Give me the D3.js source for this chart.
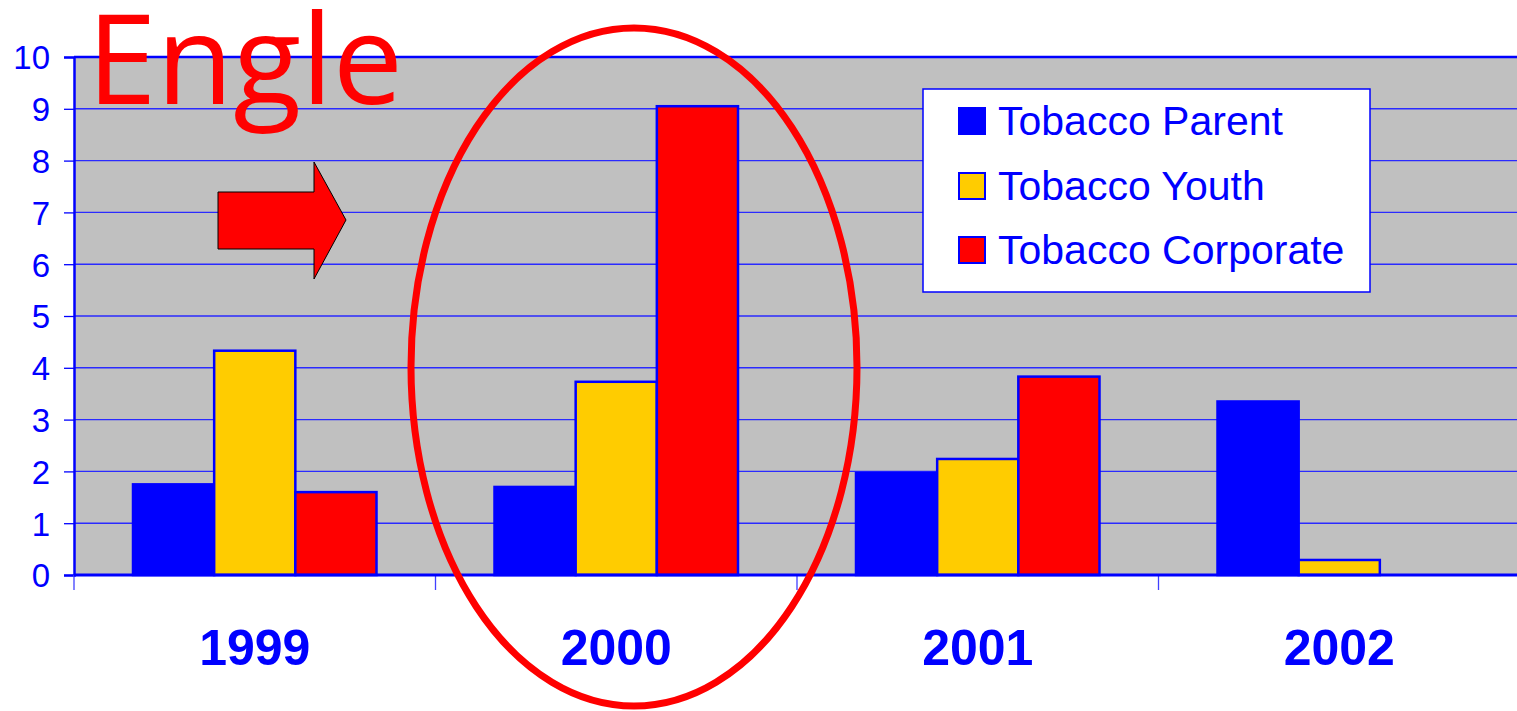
<!DOCTYPE html>
<html>
<head>
<meta charset="utf-8">
<script src="https://cdn.jsdelivr.net/npm/d3@7"></script>
<style>
  html, body { margin: 0; padding: 0; background: #ffffff; }
  svg { display: block; }
</style>
</head>
<body>
<svg id="chart" width="1517" height="711"></svg>
<script>
// ---- data ----
const years = ["1999", "2000", "2001", "2002"];
const seriesNames = ["Tobacco Parent", "Tobacco Youth", "Tobacco Corporate"];
const parentValues = [1.75, 1.7, 1.97, 3.35];
const youthValues = [4.33, 3.73, 2.24, 0.29];
const corporateValues = [1.6, 9.05, 3.83, 0];
const yTicks = [0, 1, 2, 3, 4, 5, 6, 7, 8, 9, 10];
const seriesColors = ["#0000ff", "#ffcc00", "#ff0000"];

const seriesValues = [parentValues, youthValues, corporateValues];

const svg = d3.select("#chart");
const W = 1517, H = 711;
const plot = { left: 74, top: 57, right: 1520, bottom: 575 };

const x = d3.scaleBand().domain(years).range([plot.left, plot.right]).padding(0);
const groupPad = 59;
const x1 = d3.scaleBand().domain(seriesNames)
  .range([groupPad, x.bandwidth() - groupPad]).padding(0);
const y = d3.scaleLinear().domain([0, 10]).range([plot.bottom, plot.top]);

// plot background
svg.append("rect")
  .attr("x", plot.left).attr("y", plot.top)
  .attr("width", W - plot.left + 5).attr("height", plot.bottom - plot.top)
  .attr("fill", "#c0c0c0");

// gridlines
svg.append("g").selectAll("line").data(yTicks.filter(d => d > 0 && d < 10)).join("line")
  .attr("x1", plot.left).attr("x2", W)
  .attr("y1", d => y(d)).attr("y2", d => y(d))
  .attr("stroke", "#2a2aff").attr("stroke-width", 1.4);

// top border
svg.append("line")
  .attr("x1", plot.left).attr("x2", W)
  .attr("y1", y(10)).attr("y2", y(10))
  .attr("stroke", "#0000ff").attr("stroke-width", 2.5);

// y axis
const yAxis = d3.axisLeft(y).tickValues(yTicks).tickSize(10).tickPadding(14).tickFormat(d3.format("d"));
const gy = svg.append("g").attr("transform", `translate(${plot.left},0)`).call(yAxis);
gy.select(".domain").attr("stroke", "#0000ff").attr("stroke-width", 2.5);
gy.selectAll(".tick line").attr("stroke", "#0000ff").attr("stroke-width", 1.3);
gy.selectAll(".tick text")
  .attr("fill", "#0000ff")
  .attr("font-family", "'Liberation Sans', Arial, sans-serif")
  .attr("font-size", 33)
  .attr("dy", "0.36em");

// bars
const groups = svg.append("g").selectAll("g").data(years).join("g")
  .attr("transform", d => `translate(${x(d)},0)`);
groups.selectAll("rect")
  .data((d, i) => seriesNames.map((s, j) => ({ s, j, v: seriesValues[j][i] })).filter(e => e.v > 0))
  .join("rect")
  .attr("x", e => x1(e.s))
  .attr("width", x1.bandwidth())
  .attr("y", e => y(e.v))
  .attr("height", e => y(0) - y(e.v))
  .attr("fill", e => seriesColors[e.j])
  .attr("stroke", "#0000ff")
  .attr("stroke-width", 2.5);

// x axis
const xAxis = d3.axisBottom(x).tickSize(0).tickPadding(0);
const gx = svg.append("g").attr("transform", `translate(0,${plot.bottom})`).call(xAxis);
gx.select(".domain").remove();
gx.selectAll(".tick text")
  .attr("fill", "#0000ff")
  .attr("font-family", "'Liberation Sans', Arial, sans-serif")
  .attr("font-weight", "bold")
  .attr("font-size", 50)
  .attr("dy", 0)
  .attr("y", 90);
// category boundary ticks
svg.append("g").selectAll("line").data(years).join("line")
  .attr("x1", d => x(d)).attr("x2", d => x(d))
  .attr("y1", plot.bottom).attr("y2", plot.bottom + 15)
  .attr("stroke", "#4040ff").attr("stroke-width", 1.3);
// baseline
svg.append("line")
  .attr("x1", plot.left).attr("x2", W)
  .attr("y1", y(0)).attr("y2", y(0))
  .attr("stroke", "#0000ff").attr("stroke-width", 3);

// legend
const lg = svg.append("g");
lg.append("rect")
  .attr("x", 923).attr("y", 89).attr("width", 447).attr("height", 203)
  .attr("fill", "#ffffff").attr("stroke", "#0000ff").attr("stroke-width", 1.5);
const rowY = [121, 186, 250];
seriesNames.forEach((s, i) => {
  lg.append("rect")
    .attr("x", 959).attr("y", rowY[i] - 13).attr("width", 26).attr("height", 26)
    .attr("fill", seriesColors[i]).attr("stroke", "#0000ff").attr("stroke-width", 2);
  lg.append("text")
    .attr("x", 998).attr("y", rowY[i]).attr("dy", "0.35em")
    .attr("fill", "#0000ff")
    .attr("font-family", "'Liberation Sans', Arial, sans-serif")
    .attr("font-size", 41)
    .text(s);
});

// arrow annotation
svg.append("path")
  .attr("d", "M218,192 L314,192 L314,162 L346,220 L314,279 L314,249 L218,249 Z")
  .attr("fill", "#ff0000").attr("stroke", "#000000").attr("stroke-width", 1);

// ellipse annotation
svg.append("ellipse")
  .attr("cx", 634).attr("cy", 367).attr("rx", 223).attr("ry", 339)
  .attr("fill", "none").attr("stroke", "#ff0000").attr("stroke-width", 7);

// Engle title
svg.append("text")
  .attr("x", 87).attr("y", 104)
  .attr("fill", "#ff0000")
  .attr("font-family", "'Open Sans', sans-serif")
  .attr("font-size", 124)
  .attr("textLength", 316)
  .attr("lengthAdjust", "spacingAndGlyphs")
  .text("Engle");
</script>
</body>
</html>
